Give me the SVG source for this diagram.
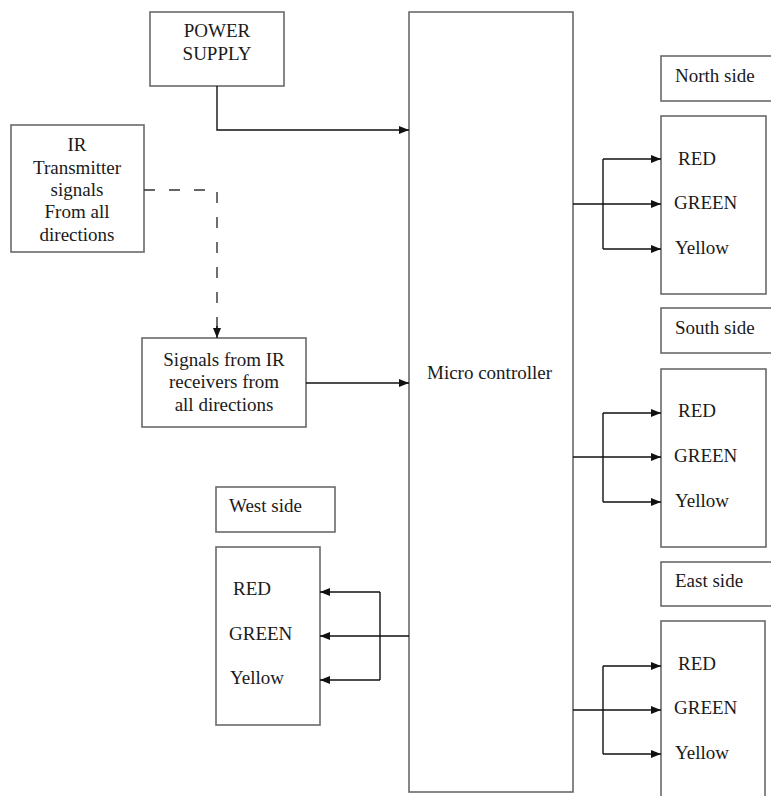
<svg xmlns="http://www.w3.org/2000/svg" width="771" height="796" viewBox="0 0 771 796">
<style>
.box{fill:#fff;stroke:#6a6a6a;stroke-width:1.6}
.t{font-family:"Liberation Serif","Times New Roman",serif;font-size:19px;fill:#1a1a1a}
.c{text-anchor:middle}
.ln{fill:none;stroke:#111;stroke-width:1.4}
.dash{fill:none;stroke:#333;stroke-width:1.4;stroke-dasharray:11 14}
</style>
<defs>
<marker id="ah" viewBox="0 0 10 8" refX="10" refY="4" markerWidth="10" markerHeight="8" markerUnits="userSpaceOnUse" orient="auto">
<path d="M0,0 L10,4 L0,8 Z" fill="#111"/>
</marker>
</defs>
<rect width="771" height="796" fill="#fff"/>

<g id="power">
<rect class="box" x="150" y="12" width="134" height="74"/>
<text class="t c" x="217" y="37">POWER</text>
<text class="t c" x="217" y="60">SUPPLY</text>
</g>

<g id="ir-transmitter">
<rect class="box" x="11" y="125" width="133" height="127"/>
<text class="t c" x="77" y="151">IR</text>
<text class="t c" x="77" y="174">Transmitter</text>
<text class="t c" x="77" y="196">signals</text>
<text class="t c" x="77" y="218">From all</text>
<text class="t c" x="77" y="241">directions</text>
</g>

<g id="ir-receivers">
<rect class="box" x="142" y="338" width="164" height="89"/>
<text class="t c" x="224" y="366">Signals from IR</text>
<text class="t c" x="224" y="388">receivers from</text>
<text class="t c" x="224" y="411">all directions</text>
</g>

<g id="microcontroller">
<rect class="box" x="409" y="12" width="164" height="780"/>
<text class="t" x="427" y="379">Micro controller</text>
</g>

<g id="north-label">
<rect class="box" x="661" y="56" width="130" height="45"/>
<text class="t" x="675" y="82">North side</text>
</g>
<g id="north-lights">
<rect class="box" x="661" y="116" width="105" height="178"/>
<text class="t" x="678" y="165">RED</text>
<text class="t" x="674" y="209">GREEN</text>
<text class="t" x="675" y="254">Yellow</text>
</g>

<g id="south-label">
<rect class="box" x="661" y="308" width="130" height="45"/>
<text class="t" x="675" y="334">South side</text>
</g>
<g id="south-lights">
<rect class="box" x="661" y="369" width="105" height="178"/>
<text class="t" x="678" y="417">RED</text>
<text class="t" x="674" y="462">GREEN</text>
<text class="t" x="675" y="507">Yellow</text>
</g>

<g id="east-label">
<rect class="box" x="661" y="562" width="130" height="44"/>
<text class="t" x="675" y="587">East side</text>
</g>
<g id="east-lights">
<rect class="box" x="661" y="621" width="104" height="190"/>
<text class="t" x="678" y="670">RED</text>
<text class="t" x="674" y="714">GREEN</text>
<text class="t" x="675" y="759">Yellow</text>
</g>

<g id="west-label">
<rect class="box" x="216" y="487" width="119" height="45"/>
<text class="t" x="229" y="512">West side</text>
</g>
<g id="west-lights">
<rect class="box" x="216" y="547" width="104" height="178"/>
<text class="t" x="233" y="595">RED</text>
<text class="t" x="229" y="640">GREEN</text>
<text class="t" x="230" y="684">Yellow</text>
</g>

<g id="connectors">
<path class="ln" d="M217,86 V130 H409" marker-end="url(#ah)"/>
<path class="dash" d="M144,190 H217 V328"/>
<path class="ln" d="M217,326 V338" marker-end="url(#ah)"/>
<path class="ln" d="M306,383 H409" marker-end="url(#ah)"/>

<path class="ln" d="M573,204 H661" marker-end="url(#ah)"/>
<path class="ln" d="M603,159 H661" marker-end="url(#ah)"/>
<path class="ln" d="M603,249 H661" marker-end="url(#ah)"/>
<path class="ln" d="M603,159 V249"/>

<path class="ln" d="M573,457 H661" marker-end="url(#ah)"/>
<path class="ln" d="M603,413 H661" marker-end="url(#ah)"/>
<path class="ln" d="M603,502 H661" marker-end="url(#ah)"/>
<path class="ln" d="M603,413 V502"/>

<path class="ln" d="M573,710 H661" marker-end="url(#ah)"/>
<path class="ln" d="M603,666 H661" marker-end="url(#ah)"/>
<path class="ln" d="M603,754 H661" marker-end="url(#ah)"/>
<path class="ln" d="M603,666 V754"/>

<path class="ln" d="M409,636 H320" marker-end="url(#ah)"/>
<path class="ln" d="M380,592 H320" marker-end="url(#ah)"/>
<path class="ln" d="M380,680 H320" marker-end="url(#ah)"/>
<path class="ln" d="M380,592 V680"/>
</g>
</svg>
